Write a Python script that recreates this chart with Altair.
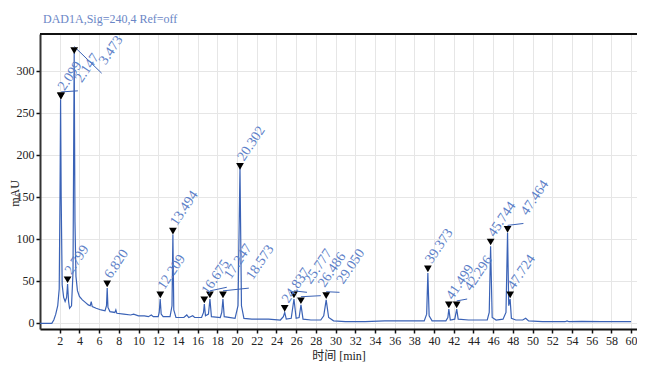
import altair as alt
import pandas as pd

# ---- chromatogram trace ----
trace_t = [0, 1.2, 1.4, 1.6, 1.8, 1.95, 2.03, 2.09, 2.15, 2.25, 2.4, 2.55, 2.7, 2.8, 2.9, 3.0, 3.2, 3.35, 3.47,
           3.55, 3.65, 3.8, 4.0, 4.3, 4.6, 4.9, 5.1, 5.2, 5.3, 5.7, 6.2, 6.6, 6.75, 6.82, 6.9, 7.1, 7.6, 7.7,
           7.8, 8.5, 9.2, 9.5, 10, 10.6, 11.0, 11.3, 11.5, 12.0, 12.1, 12.2, 12.3, 12.5, 13.2, 13.4, 13.49,
           13.58, 13.8, 14.6, 14.9, 15.1, 15.5, 15.7, 16.4, 16.6, 16.68, 16.8, 17.1, 17.25, 17.4, 18.3, 18.45,
           18.57, 18.7, 19.8, 20.1, 20.3, 20.45, 20.7, 21.5, 22.5, 23.2, 24.4, 24.7, 24.84, 25.0, 25.5, 25.78,
           26.0, 26.3, 26.49, 26.7, 27.5, 28.5, 28.8, 29.05, 29.3, 29.8, 31, 33, 35, 37, 39.0, 39.25, 39.37,
           39.5, 39.8, 41.2, 41.4, 41.5, 41.65, 42.1, 42.3, 42.45, 43.5, 44.5, 45.4, 45.6, 45.74, 45.9, 46.3,
           47.0, 47.3, 47.46, 47.58, 47.72, 47.85, 48.3, 49.0, 49.3, 49.6, 51, 53.3, 53.5, 53.7, 55, 57, 60]
trace_mau = [-1, -1, 3, 10, 20, 40, 150, 266, 150, 45, 30, 25, 30, 46, 25, 17, 20, 60, 321,
             120, 55, 38, 31, 27, 24, 21, 20, 25, 19, 17, 15, 14, 20, 41, 18, 13, 12, 15,
             11, 10, 9, 10, 8, 8, 7, 9, 7, 7, 12, 28, 10, 7, 7, 20, 105,
             15, 6, 6, 9, 6, 8, 6, 6, 12, 22, 8, 10, 28, 7, 6, 12,
             28, 7, 5, 20, 184, 20, 5, 4, 4, 4, 3, 7, 12, 4, 5, 28,
             5, 6, 21, 4, 3, 3, 8, 27, 6, 2, 1, 1, 2, 2, 2, 10, 59,
             8, 2, 2, 6, 16, 3, 4, 16, 4, 3, 3, 3, 12, 91, 6, 3,
             4, 12, 107, 20, 28, 5, 3, 3, 5, 2, 1, 1, 2, 1, 1.5, 1, 1]

# ---- integrated peaks ----
peak_rt = [2.099, 2.147, 2.799, 3.473, 6.820, 12.209, 13.494, 16.675, 17.247, 18.573, 20.302,
           24.837, 25.777, 26.486, 29.050, 39.373, 41.499, 42.296, 45.744, 47.464, 47.724]
peak_mau = [264, 264, 45, 318, 40, 27, 103, 21, 27, 27, 180,
            11, 27, 20, 26, 58, 15, 15, 90, 105, 27]
# label anchor (only differs from the peak where a leader line is drawn)
label_rt = [2.099, 3.84, 2.799, 6.26, 6.820, 12.209, 13.494, 16.675, 18.96, 21.2, 20.302,
            24.837, 27.1, 28.5, 30.4, 39.373, 41.499, 43.36, 45.744, 49.07, 47.724]
label_mau = [264, 276, 45, 297, 40, 27, 103, 21, 42, 41, 180,
             11, 36, 32, 36, 58, 15, 28, 90, 118, 27]

x_ticks = list(range(2, 61, 2))
y_ticks = [0, 50, 100, 150, 200, 250, 300]

trace = pd.DataFrame({"t": trace_t, "mau": trace_mau})
peaks = pd.DataFrame({"t": peak_rt, "mau": peak_mau, "lt": label_rt, "lm": label_mau})
peaks["label"] = [f"{v:.3f}" for v in peak_rt]
peaks["leader"] = (peaks["lt"] != peaks["t"])

BLUE = "#3a62b6"
LBLUE = "#5d7fc8"
FONT = "Liberation Serif, Noto Sans CJK SC"
W = 597

xs = alt.Scale(domain=[0, 60.6], nice=False, zero=False)
ys = alt.Scale(domain=[-7.7, 343.7], nice=False, zero=False)

x_axis = alt.Axis(values=x_ticks, tickCount=len(x_ticks), title="时间 [min]", format="d",
                  grid=True, gridColor="#e6e6e6",
                  domainColor="#111", domainWidth=2, tickColor="#111", tickSize=4, tickWidth=1.5,
                  labelFont=FONT, labelFontSize=12, labelColor="#222", labelPadding=2,
                  labelOverlap=False, labelBound=False, labelFlush=False,
                  titleFont=FONT, titleFontSize=12, titleFontWeight="normal", titleColor="#222",
                  titlePadding=4)
y_axis = alt.Axis(values=y_ticks, tickCount=len(y_ticks), title="mAU", grid=True, gridColor="#e6e6e6",
                  domainColor="#333", domainWidth=2, tickColor="#111", tickSize=4, tickWidth=1.5,
                  labelFont=FONT, labelFontSize=12, labelColor="#222", labelPadding=2,
                  labelOverlap=False, labelFlush=False,
                  titleFont=FONT, titleFontSize=12, titleFontWeight="normal", titleColor="#222",
                  titleX=-26, titleY=159, titleAngle=270, titleBaseline="middle", titleAlign="center")

line = alt.Chart(trace).mark_line(color=BLUE, strokeWidth=1.2).encode(
    x=alt.X("t:Q", scale=xs, axis=x_axis),
    y=alt.Y("mau:Q", scale=ys, axis=y_axis),
)

base = alt.Chart(peaks)
px = alt.X("t:Q", scale=xs, axis=x_axis)
py = alt.Y("mau:Q", scale=ys, axis=y_axis)
lx = alt.X("lt:Q", scale=xs, axis=x_axis)
ly = alt.Y("lm:Q", scale=ys, axis=y_axis)

leaders = base.transform_filter("datum.leader").mark_rule(color=BLUE, strokeWidth=1, yOffset=-9).encode(
    x=px, y=py, x2="lt:Q", y2="lm:Q")

markers = base.mark_point(shape="triangle-down", filled=True, color="#000", size=60, opacity=1,
                          yOffset=-5).encode(x=px, y=py)

labels_a = base.transform_filter("!datum.leader").mark_text(
    angle=304, align="left", baseline="middle", dx=1, yOffset=-11, font=FONT, fontSize=14,
    color=LBLUE).encode(x=lx, y=ly, text="label:N")

labels_b = base.transform_filter("datum.leader").mark_text(
    angle=304, align="left", baseline="middle", dx=1, yOffset=-9, font=FONT, fontSize=14,
    color=LBLUE).encode(x=lx, y=ly, text="label:N")

top_border = alt.Chart(pd.DataFrame({"a": [0]})).mark_rule(color="#111", strokeWidth=2).encode(
    x=alt.value(0), x2=alt.value(W), y=alt.value(0))

title = alt.Chart(pd.DataFrame({"txt": ["DAD1A,Sig=240,4  Ref=off"]})).mark_text(
    align="left", baseline="middle", font=FONT, fontSize=12, color="#6a86c6").encode(
    x=alt.value(3), y=alt.value(-15.5), text="txt:N")

chart = alt.layer(line, leaders, markers, labels_a, labels_b, top_border, title).properties(
    width=W, height=295,
    autosize=alt.AutoSizeParams(type="none"),
    padding={"left": 32, "top": 26, "right": 0, "bottom": 35},
).configure_view(strokeWidth=0)

chart.save("out.html", embed_options={"renderer": "svg", "actions": False})
